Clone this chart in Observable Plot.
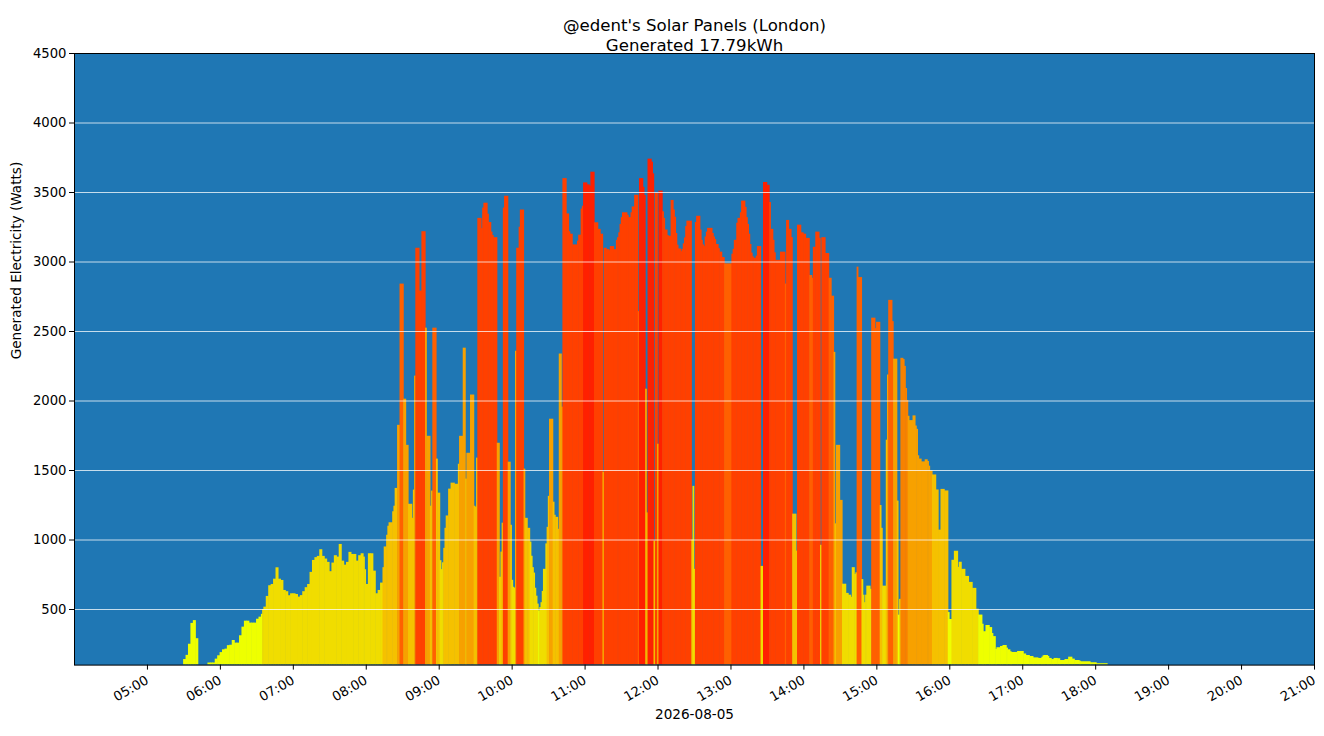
<!DOCTYPE html>
<html><head><meta charset="utf-8">
<script src="https://cdn.jsdelivr.net/npm/d3@7"></script>
<script src="https://cdn.jsdelivr.net/npm/@observablehq/plot@0.6"></script>
<style>
body{margin:0;background:#fff;font-family:"DejaVu Sans",sans-serif}
#chart svg{display:block}
</style>
</head><body><div id="chart"></div>
<script>
const day = "2026-08-05";
const titleLines = ["@edent's Solar Panels (London)", "Generated 17.79kWh"];
const yLabel = "Generated Electricity (Watts)";
const yTicks = [500,1000,1500,2000,2500,3000,3500,4000,4500];
const hourTicks = ["05:00","06:00","07:00","08:00","09:00","10:00","11:00","12:00","13:00","14:00","15:00","16:00","17:00","18:00","19:00","20:00","21:00"];

// start time of each reading (bar lasts until the next reading)
const times = [
"05:30","05:32","05:34","05:36","05:38","05:40","05:42","05:50","05:52","05:54","05:56","05:58",
"06:00","06:02","06:04","06:06","06:08","06:10","06:12","06:14","06:16","06:18","06:20","06:22","06:24","06:26","06:28","06:30","06:32","06:34","06:35","06:36","06:38","06:40","06:42","06:44","06:46","06:48","06:50","06:52","06:54","06:56","06:58",
"07:00","07:02","07:04","07:06","07:08","07:10","07:12","07:14","07:16","07:18","07:20","07:22","07:24","07:26","07:28","07:30","07:32","07:34","07:36","07:38","07:40","07:42","07:44","07:46","07:48","07:50","07:52","07:54","07:56","07:58","07:59",
"08:00","08:02","08:04","08:06","08:08","08:10","08:12","08:14","08:15","08:17","08:18","08:19","08:22","08:23","08:24","08:26","08:28","08:31","08:33","08:35","08:38","08:39","08:40","08:41","08:44","08:46","08:49","08:50","08:53","08:54","08:55","08:58","08:59",
"09:01","09:02","09:03","09:04","09:05","09:06","09:08","09:10","09:13","09:16","09:17","09:20","09:22","09:23","09:26","09:29","09:30","09:31","09:32","09:35","09:36","09:37","09:40","09:41","09:43","09:44","09:45","09:48","09:50","09:51","09:52","09:53","09:54","09:57","09:59",
"10:00","10:01","10:02","10:03","10:04","10:06","10:07","10:10","10:11","10:13","10:15","10:16","10:17","10:18","10:19","10:20","10:21","10:22","10:23","10:24","10:25","10:26","10:28","10:29","10:30","10:31","10:34","10:35","10:36","10:38","10:39","10:41","10:42","10:45","10:47","10:48","10:50","10:54","10:55","10:57","10:58","10:59",
"11:02","11:04","11:05","11:08","11:11","11:13","11:15","11:16","11:18","11:20","11:21","11:24","11:26","11:27","11:28","11:29","11:30","11:31","11:35","11:36","11:38","11:39","11:41","11:44","11:45","11:48","11:49","11:50","11:51","11:52","11:55","11:56","11:57","11:58",
"12:00","12:01","12:04","12:05","12:06","12:08","12:09","12:11","12:13","12:14","12:15","12:16","12:17","12:19","12:20","12:21","12:22","12:23","12:24","12:28","12:29","12:30","12:31","12:32","12:35","12:36","12:37","12:38","12:39","12:40","12:41","12:45","12:46","12:47","12:48","12:50","12:51","12:53","12:55",
"13:01","13:02","13:03","13:05","13:06","13:08","13:09","13:12","13:13","13:14","13:15","13:16","13:17","13:18","13:19","13:21","13:22","13:25","13:27","13:30","13:32","13:33","13:35","13:36","13:37","13:41","13:45","13:46","13:48","13:50","13:51","13:54","13:55","13:58",
"14:00","14:02","14:05","14:07","14:08","14:10","14:13","14:14","14:15","14:18","14:21","14:23","14:25","14:26","14:27","14:30","14:32","14:35","14:37","14:39","14:40","14:42","14:43","14:44","14:45","14:48","14:49","14:50","14:51","14:52","14:55","14:56","14:59",
"15:00","15:03","15:04","15:05","15:08","15:09","15:10","15:13","15:14","15:17","15:18","15:19","15:20","15:22","15:23","15:24","15:25","15:26","15:27","15:30","15:32","15:33","15:34","15:35","15:37","15:40","15:42","15:43","15:44","15:46","15:49","15:51","15:53","15:56","15:59",
"16:00","16:02","16:04","16:07","16:08","16:10","16:13","16:16","16:19","16:22","16:24","16:27","16:28","16:30","16:33","16:35","16:36","16:38","16:39","16:42","16:44","16:47","16:48","16:50","16:51","16:56",
"17:01","17:03","17:06","17:09","17:13","17:16","17:17","17:18","17:21","17:22","17:24","17:26","17:29","17:31","17:35","17:38","17:41","17:43","17:47","17:48","17:56",
"18:01","18:10"
];

// generated power (W) for each reading
const watts = [
140,170,250,400,420,290,0,115,115,115,143,167,
190,210,215,240,243,277,258,258,311,373,416,416,402,402,402,430,445,465,500,517,594,671,680,718,800,718,709,637,628,599,613,
613,608,589,600,628,657,680,767,853,873,882,930,882,863,839,772,834,887,877,968,848,819,839,911,896,896,848,887,901,877,786,
680,901,901,776,613,637,690,801,950,1034,1099,1124,1203,1243,1371,1825,2841,2013,1681,1257,1156,1359,2179,3099,2791,3218,2524,1746,1243,1352,2524,1582,1337,
851,787,836,940,1084,1173,1366,1409,1401,1545,1746,2380,1438,1624,2043,1243,1235,1589,3314,3240,3388,3423,3344,3284,3215,3190,3175,1696,732,913,1121,3388,3473,1560,1106,
710,660,653,2358,3099,3250,3374,1510,1156,1084,985,883,801,762,653,596,539,489,514,549,630,789,972,1091,1314,1869,1272,1178,1163,1077,2338,1956,3600,3346,3218,3200,3123,3150,3193,3381,3401,3569,
3555,3545,3646,3282,3235,3200,1488,3099,3089,3081,3111,3089,3156,3175,3210,3270,3319,3354,3336,3319,3354,3396,3480,2643,3600,3537,3478,2085,1195,3740,3718,3634,992,3495,
1689,3510,3361,3314,3230,3190,3185,3443,3374,3322,3205,3121,3094,3074,3091,3131,3173,3255,3294,1000,1386,789,3284,3329,3230,3156,3123,3111,3180,3215,3242,3205,3180,3161,3126,3096,3071,3032,2987,
3056,3091,3156,3279,3314,3354,3438,3393,3319,3270,3200,3126,3064,3037,3027,3042,3111,810,3572,3552,3428,3235,3156,3066,3012,3071,2841,3299,3235,3175,1186,920,3265,3210,
3200,3170,2903,2883,3106,3215,3170,962,3175,3061,2883,2754,2350,1116,1681,1285,682,616,603,588,801,752,764,2963,2888,715,603,549,603,668,645,2596,2521,
2566,1248,1084,668,1718,2187,2724,2571,2301,1280,459,573,2307,2298,2249,2090,2004,1890,1859,1893,1820,1796,1606,1582,1562,1577,1565,1531,1497,1468,1360,1071,1364,1353,478,
428,854,919,803,840,789,738,695,652,502,460,394,340,385,370,327,305,213,225,234,241,222,210,196,191,198,
180,169,162,152,148,157,167,169,162,148,140,148,146,133,140,157,143,133,128,124,117,
110,0
];

// colour band of each reading
const bands = [
"YYYYYYYYYYYY",
"YYYYYYYYYYYYYYYYYYGGGGGGGGGGGGG",
"GGGGGGGGGGGGGGGGGGGGGGGGGGGGGGG",
"GGGGGGGAAAAAAAAOPOOAAAOSSSOOAAPAA",
"GGGAAAAAAAOOAOOAAASSSSSSSSSOGAASSOA",
"GGGOSSSOAAGGGGGGGYGGGGGAAOAAAAOOSSSSSSSSST",
"TTTSSSASSSSSSSSSSSSSSSSPTTTOATTTGS",
"ATSSSSSSSSSSSSSSSSSAGGSSSSSSSSSSSSSSSSP",
"SSSSSSSSSSSSSSSSSGTTSSSSSSPSSSAASS",
"SSPPSSSGSSPPOAOOGGGGGGGPPGGGGGGPP",
"PAAGAOPPOAYGQQQQQOOOOOOOOOOOOAAAAAY",
"YGGGGGGGGGYYYYYYYYYYYYYYYY",
"YYYYYYYYYYYYYYYYYYYYY",
"YY"
].join("").split("");

const bandNames = ["Y","G","A","O","Q","P","S","T"];
const bandColours = ["#eeff00","#f0dd00","#f5c100","#f7a100","#f88200","#ff6000","#ff4000","#ff2000"];

const toDate = s => new Date(`${day}T${s}:00Z`);
const bars = times.map((t, i) => ({
  start: toDate(t),
  end: toDate(times[i + 1] ?? t),
  w: watts[i],
  band: bands[i]
})).filter(d => d.w > 0);

if (times.length !== watts.length || times.length !== bands.length)
  console.error("length mismatch", times.length, watts.length, bands.length);

const chart = Plot.plot({
  width: 1324,
  height: 736,
  marginLeft: 74,
  marginRight: 10,
  marginTop: 53,
  marginBottom: 71.4,
  style: {fontFamily: "DejaVu Sans, sans-serif", fontSize: "13.2px", background: "white", color: "black", overflow: "visible"},
  x: {type: "utc", domain: [toDate("04:00"), toDate("21:00")]},
  y: {domain: [100, 4500]},
  color: {domain: bandNames, range: bandColours},
  marks: [
    Plot.frame({fill: "#1f77b4"}),
    Plot.rectY(bars, {x1: "start", x2: "end", y1: 100, y2: "w", fill: "band", insetLeft: -0.3, insetRight: -0.3, clip: true}),
    Plot.gridY(yTicks, {stroke: "white", strokeOpacity: 0.75, strokeWidth: 1}),
    Plot.frame({stroke: "black", strokeWidth: 1}),
    Plot.axisY(yTicks, {tickSize: 5, tickPadding: 3, fontSize: 13.2, tickFormat: d => String(d), label: null}),
    Plot.axisX(hourTicks.map(toDate), {tickSize: 5, tickPadding: 9, fontSize: 13.2, tickRotate: -30, tickFormat: d3.utcFormat("%H:%M"), label: null}),
    Plot.text([yLabel], {frameAnchor: "left", dx: -58, rotate: -90, fontSize: 13.6, text: d => d}),
    Plot.text([day], {frameAnchor: "bottom", dy: 53.5, fontSize: 13.6, text: d => d}),
    Plot.text([titleLines[0]], {frameAnchor: "top", dy: -34, fontSize: 16.6, text: d => d}),
    Plot.text([titleLines[1]], {frameAnchor: "top", dy: -14, fontSize: 16.6, text: d => d})
  ]
});
document.getElementById("chart").append(chart);
</script>
</body></html>
